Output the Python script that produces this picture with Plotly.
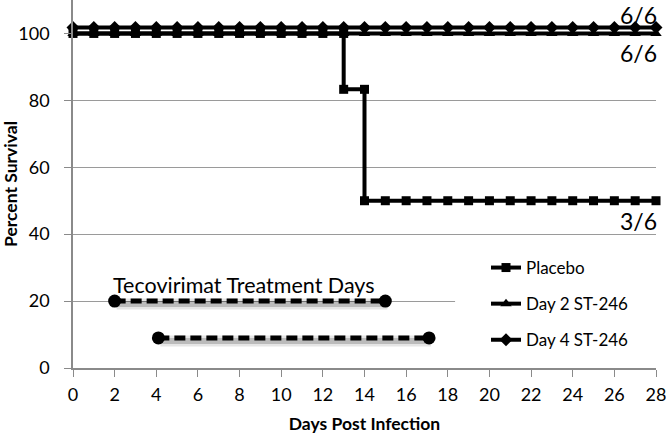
import plotly.graph_objects as go

# ---- data ----
placebo_days = [0, 1, 2, 3, 4, 5, 6, 7, 8, 9, 10, 11, 12, 13, 13, 14, 14, 15, 16, 17, 18, 19, 20, 21, 22, 23, 24, 25, 26, 27, 28]
placebo_survival = [100] * 14 + [83.3, 83.3, 50] + [50] * 14

days = list(range(0, 29))
day2_survival = [100] * 29
day4_survival = [101.8] * 29   # drawn slightly above 100 as in the original

treat1_days = [2, 15]
treat1_level = [20, 20]
treat2_days = [4.1, 17.1]
treat2_level = [9, 9]

count_labels = ["6/6", "6/6", "3/6"]
count_y = [105.4, 94.2, 44]

x_ticks = list(range(0, 29, 2))
y_ticks = [0, 20, 40, 60, 80, 100]

FONT = "Lato"
X_RANGE = [0, 28]
Y_RANGE = [0, 110]

fig = go.Figure()

# shadows for treatment bars on a slightly shifted, hidden overlay axis
for tx, ty in [(treat1_days, treat1_level), (treat2_days, treat2_level)]:
    fig.add_trace(go.Scatter(
        x=tx, y=ty, mode="lines", showlegend=False, hoverinfo="skip", xaxis="x2", yaxis="y2",
        line=dict(color="rgba(0,0,0,0.10)", width=11), cliponaxis=False))
    fig.add_trace(go.Scatter(
        x=tx, y=ty, mode="lines", showlegend=False, hoverinfo="skip", xaxis="x2", yaxis="y2",
        line=dict(color="rgba(0,0,0,0.18)", width=6), cliponaxis=False))

fig.add_trace(go.Scatter(
    x=days, y=day4_survival, mode="lines+markers", name="Day 4 ST-246",
    line=dict(color="black", width=4), marker=dict(symbol="diamond", size=10, color="black"),
    cliponaxis=False, legendgroup="c", legendrank=3))
fig.add_trace(go.Scatter(
    x=days, y=day2_survival, mode="lines+markers", name="Day 2 ST-246",
    line=dict(color="black", width=4), marker=dict(symbol="triangle-up", size=10, color="black"),
    cliponaxis=False, legendgroup="b", legendrank=2))
fig.add_trace(go.Scatter(
    x=placebo_days, y=placebo_survival, mode="lines+markers", name="Placebo",
    line=dict(color="black", width=4), marker=dict(symbol="square", size=9, color="black"),
    cliponaxis=False, legendgroup="a", legendrank=1))

for tx, ty in [(treat1_days, treat1_level), (treat2_days, treat2_level)]:
    fig.add_trace(go.Scatter(
        x=tx, y=ty, mode="lines+markers", showlegend=False,
        line=dict(color="black", width=5, dash="11px,5px"),
        marker=dict(symbol="circle", size=13, color="black"), cliponaxis=False))

for lab, yy in zip(count_labels, count_y):
    fig.add_annotation(x=28, y=yy, text=lab, showarrow=False, xanchor="right", yanchor="middle",
                       xshift=3, font=dict(family=FONT, size=23, color="black"))

fig.add_annotation(x=treat1_days[0], y=24.8, text="Tecovirimat Treatment Days", showarrow=False,
                   xanchor="left", yanchor="middle", xshift=-4,
                   font=dict(family=FONT, size=21.5, color="black"))

# white background behind legend hiding the gridline
fig.add_shape(type="rect", xref="x", yref="y", x0=18.35, x1=28, y0=17, y1=23,
              fillcolor="white", line=dict(width=0), layer="between")

px_x = (X_RANGE[1] - X_RANGE[0]) / 583
px_y = (Y_RANGE[1] - Y_RANGE[0]) / 368

fig.update_layout(
    width=666, height=434,
    margin=dict(l=73, r=10, t=0, b=66),
    paper_bgcolor="white", plot_bgcolor="white",
    font=dict(family=FONT, color="black"),
    legend=dict(x=(486 - 73) / 583, y=(368 - 250) / 368, xanchor="left", yanchor="top",
                bgcolor="rgba(0,0,0,0)", font=dict(family=FONT, size=17, color="black"),
                tracegroupgap=11, traceorder="grouped"),
    xaxis=dict(range=X_RANGE, tickvals=x_ticks, showgrid=False, zeroline=False,
               showline=True, linecolor="#8a8a8a", linewidth=1.5,
               ticks="outside", ticklen=7, tickcolor="#8a8a8a", ticklabelstandoff=3,
               ticklabeloverflow="allow",
               tickfont=dict(family=FONT, size=18, color="black"),
               title=dict(text="<b>Days Post Infection</b>", standoff=15,
                          font=dict(family=FONT, size=17.5, color="black"))),
    yaxis=dict(range=Y_RANGE, tickvals=y_ticks, showgrid=True, gridcolor="#9a9a9a", gridwidth=1,
               zeroline=False, showline=True, linecolor="#8a8a8a", linewidth=1.5,
               ticks="outside", ticklen=7, tickcolor="#8a8a8a", ticklabelstandoff=11,
               ticklabeloverflow="allow",
               tickfont=dict(family=FONT, size=18, color="black"),
               title=dict(text="<b>Percent Survival</b>", standoff=5,
                          font=dict(family=FONT, size=17.5, color="black"))),
    xaxis2=dict(overlaying="x", range=[X_RANGE[0] - 2 * px_x, X_RANGE[1] - 2 * px_x], visible=False),
    yaxis2=dict(overlaying="y", range=[Y_RANGE[0] + 3 * px_y, Y_RANGE[1] + 3 * px_y], visible=False),
)

fig.write_html("out.html", config={"displayModeBar": False},
               post_script="document.body.style.margin='0';")
